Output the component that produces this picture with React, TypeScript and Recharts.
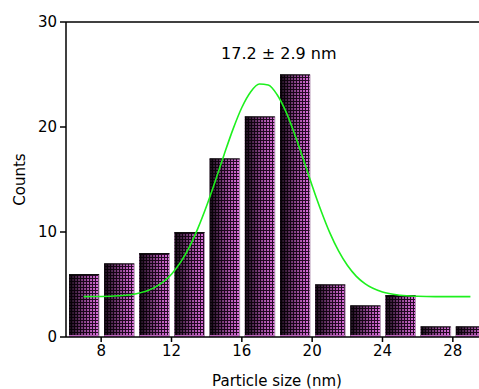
import React from 'react';
import { ComposedChart, Bar, Line, XAxis, YAxis, ReferenceLine, ReferenceDot } from 'recharts';

const binCenters = [7, 9, 11, 13, 15, 17, 19, 21, 23, 25, 27, 29];
const counts = [6, 7, 8, 10, 17, 21, 25, 5, 3, 4, 1, 1];

const fitX = [7, 8, 9, 10, 11, 12, 12.5, 13, 13.5, 14, 14.5, 15, 15.5, 16, 16.5, 17, 17.5, 18, 18.5, 19, 19.5, 20, 20.5, 21, 21.5, 22, 22.5, 23, 24, 25, 26, 27, 28, 29];
const fitY = [3.85, 3.86, 3.93, 4.12, 4.68, 5.98, 7.08, 8.52, 10.35, 12.5, 14.91, 17.41, 19.8, 21.86, 23.34, 24.09, 24.0, 23.1, 21.49, 19.34, 16.92, 14.41, 12.05, 9.94, 8.2, 6.83, 5.8, 5.08, 4.28, 3.98, 3.88, 3.85, 3.85, 3.85];

const xTicks = [8, 12, 16, 20, 24, 28];
const yTicks = [0, 10, 20, 30];
const fitLabel = '17.2 ± 2.9 nm';

const histData = binCenters.map((x, i) => ({ x, count: counts[i] }));
const fitData = fitX.map((x, i) => ({ x, fit: fitY[i] }));

const FONT = '"DejaVu Sans", sans-serif';

const BarShape = (props: any) => {
  const { x, y, width, height } = props;
  if (!height || height <= 0) return null;
  return (
    <g>
      <rect x={x} y={y} width={width} height={height} fill="url(#gridPat)" />
      <rect x={x} y={y} width={width} height={height} fill="url(#shadeGrad)" />
      <rect x={x} y={y + height - 2} width={width} height={2} fill="#e27be2" opacity={0.8} />
      <line x1={x + width} y1={y} x2={x + width} y2={y + height} stroke="#b89ab8" strokeWidth={1} />
      <line x1={x} y1={y + 0.5} x2={x + width} y2={y + 0.5} stroke="#111" strokeWidth={1} />
    </g>
  );
};

const YLabel = (props: any) => {
  const vb = props.viewBox || {};
  const cx = 20;
  const cy = vb.y + vb.height / 2;
  return (
    <text x={cx} y={cy} transform={`rotate(-90, ${cx}, ${cy})`} textAnchor="middle" dominantBaseline="central" fontSize={15} fontFamily={FONT} fill="#000">
      Counts
    </text>
  );
};

export default function App() {
  return (
    <div style={{ position: 'absolute', left: 0, top: 0, width: 479, height: 389, overflow: 'hidden', background: '#fff' }}>
      <ComposedChart width={500} height={389} data={histData} margin={{ top: 22, right: 12, bottom: 0, left: 0 }}>
        <defs>
          <pattern id="gridPat" x="0" y="0" width="3" height="3" patternUnits="userSpaceOnUse">
            <rect x="0" y="0" width="3" height="3" fill="#2a0a2a" />
            <rect x="0" y="0" width="2" height="2" fill="#e070e0" />
          </pattern>
          <linearGradient id="shadeGrad" x1="0" y1="0" x2="1" y2="0">
            <stop offset="0" stopColor="#000" stopOpacity={0.92} />
            <stop offset="0.35" stopColor="#000" stopOpacity={0.55} />
            <stop offset="0.7" stopColor="#000" stopOpacity={0.2} />
            <stop offset="1" stopColor="#000" stopOpacity={0} />
          </linearGradient>
        </defs>
        <XAxis
          xAxisId="main"
          dataKey="x"
          type="number"
          domain={[6, 30]}
          ticks={xTicks}
          allowDataOverflow
          height={52}
          tickSize={5}
          tickMargin={3}
          axisLine={{ stroke: '#000', strokeWidth: 1.5 }}
          tickLine={{ stroke: '#000', strokeWidth: 1.5 }}
          tick={{ fontSize: 15, fontFamily: FONT, fill: '#000' }}
          label={{ value: 'Particle size (nm)', position: 'insideBottom', offset: 3, fontSize: 15, fontFamily: FONT, fill: '#000' }}
        />
        <XAxis xAxisId="fit" dataKey="x" type="number" domain={[6, 30]} allowDataOverflow hide height={0} />
        <YAxis
          type="number"
          domain={[0, 30]}
          ticks={yTicks}
          width={66}
          tickSize={6}
          tickMargin={3}
          axisLine={{ stroke: '#000', strokeWidth: 1.5 }}
          tickLine={{ stroke: '#000', strokeWidth: 1.5 }}
          tick={{ fontSize: 15, fontFamily: FONT, fill: '#000' }}
          label={<YLabel />}
        />
        <ReferenceLine xAxisId="main" y={30} stroke="#000" strokeWidth={1.5} ifOverflow="visible" />
        <Bar xAxisId="main" dataKey="count" barSize={30} shape={<BarShape />} isAnimationActive={false} />
        <Line xAxisId="fit" data={fitData} dataKey="fit" type="monotone" stroke="#1ef01e" strokeWidth={1.6} dot={false} isAnimationActive={false} />
        <ReferenceDot
          xAxisId="main"
          x={18.1}
          y={27}
          r={0}
          fill="none"
          stroke="none"
          label={{ value: fitLabel, position: 'center', fontSize: 16, fontFamily: FONT, fill: '#000' }}
        />
      </ComposedChart>
    </div>
  );
}
